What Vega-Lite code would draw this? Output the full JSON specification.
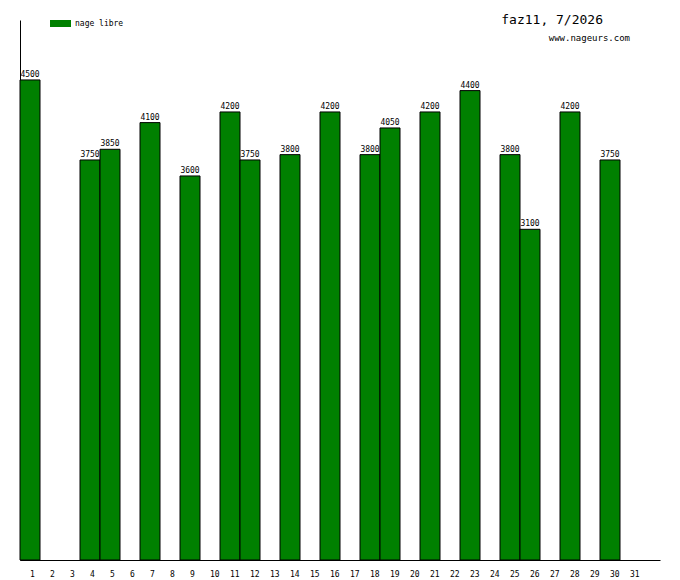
{
  "$schema": "https://vega.github.io/schema/vega-lite/v6.json",
  "width": 640,
  "height": 540,
  "autosize": "none",
  "padding": {"left": 20, "top": 20, "right": 20, "bottom": 20},
  "background": "white",
  "datasets": {
    "bains": [
      {"jour": 1, "temps": 4500, "nage": "nage libre"},
      {"jour": 4, "temps": 3750, "nage": "nage libre"},
      {"jour": 5, "temps": 3850, "nage": "nage libre"},
      {"jour": 7, "temps": 4100, "nage": "nage libre"},
      {"jour": 9, "temps": 3600, "nage": "nage libre"},
      {"jour": 11, "temps": 4200, "nage": "nage libre"},
      {"jour": 12, "temps": 3750, "nage": "nage libre"},
      {"jour": 14, "temps": 3800, "nage": "nage libre"},
      {"jour": 16, "temps": 4200, "nage": "nage libre"},
      {"jour": 18, "temps": 3800, "nage": "nage libre"},
      {"jour": 19, "temps": 4050, "nage": "nage libre"},
      {"jour": 21, "temps": 4200, "nage": "nage libre"},
      {"jour": 23, "temps": 4400, "nage": "nage libre"},
      {"jour": 25, "temps": 3800, "nage": "nage libre"},
      {"jour": 26, "temps": 3100, "nage": "nage libre"},
      {"jour": 28, "temps": 4200, "nage": "nage libre"},
      {"jour": 30, "temps": 3750, "nage": "nage libre"}
    ],
    "titre": [{"texte": "faz11, 7/2026", "jour": 29, "temps": 5024}],
    "site": [{"texte": "www.nageurs.com", "jour": 31, "temps": 4865}]
  },
  "data": {"name": "bains"},
  "encoding": {
    "x": {
      "field": "jour",
      "type": "ordinal",
      "title": null,
      "scale": {
        "domain": [1,2,3,4,5,6,7,8,9,10,11,12,13,14,15,16,17,18,19,20,21,22,23,24,25,26,27,28,29,30,31,32],
        "paddingInner": 0,
        "paddingOuter": 0
      },
      "axis": {
        "values": [1,2,3,4,5,6,7,8,9,10,11,12,13,14,15,16,17,18,19,20,21,22,23,24,25,26,27,28,29,30,31],
        "labelAngle": 0,
        "labelAlign": "left",
        "ticks": false,
        "domainColor": "black",
        "labelFont": "DejaVu Sans Mono",
        "labelFontSize": 8,
        "labelColor": "black",
        "labelPadding": 10
      }
    },
    "y": {
      "field": "temps",
      "type": "quantitative",
      "title": null,
      "scale": {"domain": [0, 5062], "nice": false},
      "axis": {"labels": false, "ticks": false, "grid": false, "domainColor": "black"}
    }
  },
  "layer": [
    {
      "mark": {"type": "bar", "stroke": "black", "strokeWidth": 1},
      "encoding": {
        "color": {
          "field": "nage",
          "type": "nominal",
          "scale": {"range": ["#008000"]},
          "legend": {
            "title": null,
            "orient": "none",
            "legendX": 30,
            "legendY": -7,
            "padding": 0,
            "symbolType": "M-1,-0.333H1V0.333H-1Z",
            "symbolSize": 441,
            "symbolStrokeWidth": 0,
            "symbolOpacity": 1,
            "labelFont": "DejaVu Sans Mono",
            "labelFontSize": 8,
            "labelColor": "black",
            "labelOffset": 4
          }
        }
      }
    },
    {
      "mark": {
        "type": "text",
        "baseline": "bottom",
        "dy": -1,
        "font": "DejaVu Sans Mono",
        "fontSize": 8,
        "color": "black"
      },
      "encoding": {"text": {"field": "temps", "type": "quantitative"}}
    },
    {
      "data": {"name": "titre"},
      "mark": {
        "type": "text",
        "align": "right",
        "baseline": "alphabetic",
        "dx": 13,
        "font": "DejaVu Sans Mono",
        "fontSize": 13,
        "color": "black"
      },
      "encoding": {"text": {"field": "texte"}}
    },
    {
      "data": {"name": "site"},
      "mark": {
        "type": "text",
        "align": "right",
        "baseline": "alphabetic",
        "font": "DejaVu Sans Mono",
        "fontSize": 9,
        "color": "black"
      },
      "encoding": {"text": {"field": "texte"}}
    }
  ],
  "config": {"view": {"stroke": null}}
}
